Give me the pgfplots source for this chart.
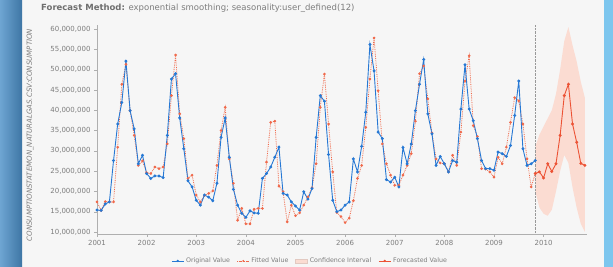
\documentclass[border=0pt]{standalone}
\usepackage{fontspec}
\setmainfont{DejaVu Sans}
\usepackage{pgfplots}
\pgfplotsset{compat=1.18}
\usepackage{pgfplotstable}
\definecolor{origblue}{RGB}{38,120,212}
\definecolor{fitred}{RGB}{240,105,75}
\definecolor{fcred}{RGB}{236,82,52}
\definecolor{cipink}{RGB}{251,220,210}
\definecolor{txtgray}{RGB}{125,125,125}
\definecolor{titlegray}{RGB}{110,110,110}
\definecolor{axgray}{RGB}{175,175,175}
\definecolor{panel}{RGB}{246,246,246}
\definecolor{leftblueA}{RGB}{110,165,210}
\definecolor{leftblueB}{RGB}{62,118,165}
\definecolor{rightblue}{RGB}{125,198,238}

\pgfplotstableread{
m orig fit
0 15.4 17.4
1 15.3 15.3
2 16.9 17.5
3 17.4 17.4
4 27.6 17.4
5 36.6 30.9
6 41.9 46.4
7 52.1 51.3
8 39.9 39.9
9 35.4 33.8
10 26.8 26.4
11 28.9 27.5
12 24.4 24.6
13 23.2 24.4
14 23.8 26.0
15 23.8 25.6
16 23.4 26.0
17 33.8 31.7
18 47.7 43.6
19 49.0 53.6
20 38.1 39.1
21 30.5 33.0
22 22.6 23.2
23 21.1 24.0
24 17.8 19.1
25 16.6 17.4
26 19.1 19.0
27 18.6 19.5
28 17.7 20.1
29 22.0 26.4
30 33.3 35.0
31 38.1 40.7
32 28.4 28.0
33 20.5 22.0
34 16.6 12.9
35 14.6 15.8
36 13.6 12.0
37 15.2 12.0
38 14.7 15.6
39 14.6 15.8
40 23.2 15.8
41 24.4 27.2
42 26.0 37.0
43 28.4 37.3
44 30.9 21.3
45 19.5 19.9
46 19.1 12.5
47 17.4 16.6
48 16.4 14.0
49 15.4 14.7
50 19.9 16.6
51 18.1 18.6
52 20.7 20.9
53 33.3 26.8
54 43.6 40.7
55 42.2 48.9
56 29.1 36.6
57 17.8 24.8
58 15.0 14.8
59 15.4 13.8
60 16.6 12.3
61 17.4 13.4
62 28.0 17.7
63 24.8 23.2
64 31.1 26.4
65 39.5 35.8
66 56.2 47.7
67 49.7 57.8
68 34.6 44.8
69 33.0 31.7
70 22.9 26.8
71 22.3 24.0
72 23.5 21.5
73 21.1 21.5
74 30.8 24.0
75 26.8 26.4
76 31.7 29.3
77 39.9 37.3
78 46.4 49.0
79 52.5 50.9
80 39.1 42.8
81 34.2 34.4
82 26.4 28.0
83 28.6 27.0
84 26.8 26.8
85 24.8 24.8
86 27.6 28.9
87 27.2 26.4
88 40.3 34.6
89 51.2 47.2
90 40.3 53.4
91 37.4 36.2
92 33.0 33.5
93 27.6 25.6
94 25.6 25.5
95 25.6 24.8
96 25.2 23.5
97 29.7 28.4
98 29.3 26.8
99 28.6 30.9
100 31.3 37.0
101 38.7 43.1
102 47.2 42.3
103 30.5 36.6
104 26.4 28.0
105 26.8 21.1
106 27.6 24.4
}\histtab

\pgfplotstableread{
m fc
106 24.4
107 24.8
108 23.3
109 26.8
110 24.9
111 26.8
112 33.8
113 43.6
114 46.4
115 36.6
116 32.1
117 26.9
118 26.4
}\fctab

\begin{document}
\begin{tikzpicture}
\useasboundingbox (0,0) rectangle (613pt,267pt);
\fill[panel] (0,0) rectangle (613pt,267pt);
\shade[left color=leftblueA, right color=leftblueB] (0,0) rectangle (22pt,267pt);
\fill[rightblue] (604pt,0) rectangle (613pt,267pt);
\node[anchor=west, font=\fontsize{8.5}{9}\selectfont, text=txtgray, inner sep=0] at (41pt,259pt)
  {\textcolor{titlegray}{\textbf{Forecast Method:}} exponential smoothing; seasonality:user\_defined(12)};
\node[rotate=90, font=\fontsize{7}{8}\selectfont\itshape, text=txtgray, inner sep=0] at (30pt,132pt)
  {CONSUMPTIONSTATEMON\_NATURALGAS.CSV:CONSUMPTION};
\begin{axis}[
  scale only axis, width=490pt, height=209pt,
  at={(97pt,33pt)}, anchor=south west,
  xmin=0, xmax=118.5, ymin=9.5, ymax=61,
  axis x line*=bottom, axis y line*=left,
  axis line style={axgray},
  xtick={0,12,...,108},
  xticklabels={2001,2002,2003,2004,2005,2006,2007,2008,2009,2010},
  ytick={10,15,...,60},
  yticklabels={{10,000,000},{15,000,000},{20,000,000},{25,000,000},{30,000,000},{35,000,000},{40,000,000},{45,000,000},{50,000,000},{55,000,000},{60,000,000}},
  tick style={axgray}, tick align=outside, major tick length=3pt,
  ticklabel style={font=\fontsize{7}{8}\selectfont, text=txtgray},
  legend columns=4,
  legend style={at={(0.435,-0.129)}, anchor=center, draw=none, fill=none,
    font=\fontsize{6.3}{7}\selectfont, text=txtgray,
    /tikz/every even column/.append style={column sep=5pt}},
  legend image post style={scale=0.7},
  legend cell align=left,
]
\addplot[fill=cipink, draw=none, forget plot] coordinates {
 (106,31) (107,34) (108,36) (109,38) (110,40) (111,44) (112,50) (113,57) (114,60.5) (115,56) (116,52) (117,47) (118,43)
 (118,10) (117,12) (116,16) (115,21) (114,27) (113,29) (112,25) (111,20) (110,15.5) (109,14) (108,14.5) (107,16) (106,20)
} -- cycle;
\addplot[densely dotted, gray!80, forget plot] coordinates {(106,9.5) (106,61)};
\addplot[fitred, densely dotted, line width=0.8pt, mark=*, mark size=0.9pt, mark options={solid}, forget plot] table[x=m, y=fit] {\histtab};
\addplot[origblue, line width=0.9pt, mark=*, mark size=1.0pt, forget plot] table[x=m, y=orig] {\histtab};
\addplot[fcred, line width=0.9pt, mark=*, mark size=1.0pt, forget plot] table[x=m, y=fc] {\fctab};
\addlegendimage{origblue, line width=0.8pt, mark=*, mark size=1pt}
\addlegendentry{Original Value}
\addlegendimage{fitred, densely dotted, mark=*, mark size=1pt, mark options={solid}}
\addlegendentry{Fitted Value}
\addlegendimage{area legend, fill=cipink, draw=cipink!80!gray}
\addlegendentry{Confidence Interval}
\addlegendimage{fcred, line width=0.8pt, mark=*, mark size=1pt}
\addlegendentry{Forecasted Value}
\end{axis}
\end{tikzpicture}
\end{document}
